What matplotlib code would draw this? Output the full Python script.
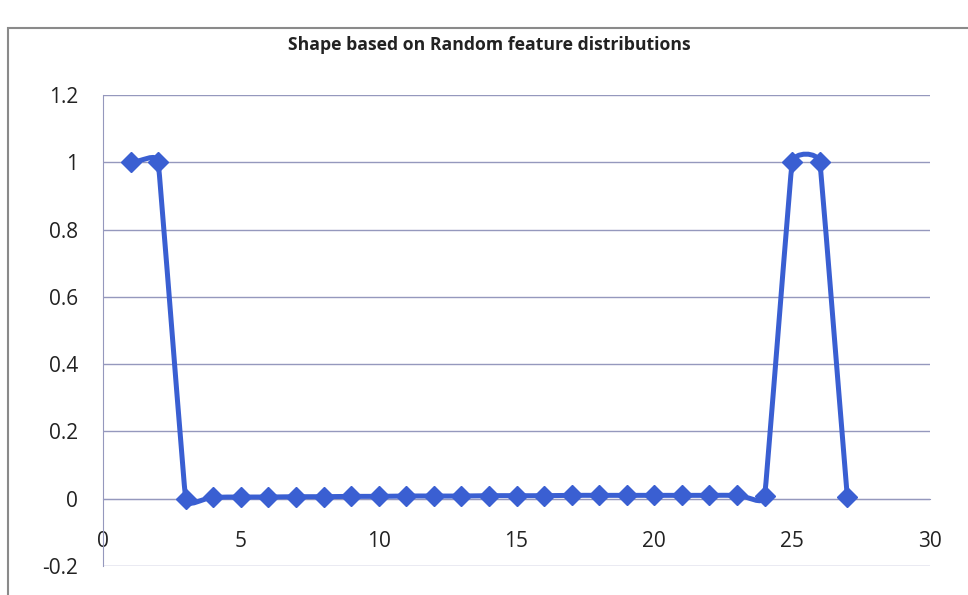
import numpy as np
import matplotlib
matplotlib.use("Agg")
import matplotlib.pyplot as plt
from matplotlib.path import Path
from matplotlib.patches import PathPatch, Rectangle

TITLE = "Shape based on Random feature distributions"
X_VALUES = list(range(1, 28))
Y_VALUES = [1.0, 1.0, 0.0, 0.004, 0.005, 0.005, 0.006, 0.006, 0.007, 0.007,
            0.008, 0.008, 0.008, 0.009, 0.009, 0.009, 0.010, 0.010, 0.010,
            0.010, 0.010, 0.010, 0.010, 0.008, 1.0, 1.0, 0.006]
X_TICKS = [0, 5, 10, 15, 20, 25, 30]
Y_TICKS = [-0.2, 0, 0.2, 0.4, 0.6, 0.8, 1.0, 1.2]
Y_TICK_LABELS = ["-0.2", "0", "0.2", "0.4", "0.6", "0.8", "1", "1.2"]

LINE_COLOR = '#3a5fd2'
GRID_COLOR = '#9598bd'
SMOOTH = 0.4  # excel-like smoothed line

plt.rcParams['font.family'] = ['Open Sans', 'DejaVu Sans']


def smooth_path(ax, xs, ys, k=SMOOTH):
    # bezier segments built in screen space, control distance limited by
    # the shorter neighbouring segment so long drops stay straight
    pts = ax.transData.transform(np.column_stack([xs, ys]))
    n = len(pts)
    verts = [pts[0]]; codes = [Path.MOVETO]
    for i in range(n - 1):
        p0, p1 = pts[i], pts[i + 1]
        seg = np.hypot(*(p1 - p0))
        prev = np.hypot(*(p0 - pts[i - 1])) if i > 0 else seg
        nxt = np.hypot(*(pts[i + 2] - p1)) if i + 2 < n else seg
        a = pts[i + 1] - pts[max(i - 1, 0)]
        b = pts[min(i + 2, n - 1)] - pts[i]
        c1 = p0 + k * min(seg, prev) * a / np.linalg.norm(a)
        c2 = p1 - k * min(seg, nxt) * b / np.linalg.norm(b)
        verts += [c1, c2, p1]; codes += [Path.CURVE4] * 3
    verts = ax.transData.inverted().transform(np.array(verts))
    return Path(verts, codes)


fig = plt.figure(figsize=(9.68, 5.95), dpi=100)
ax = fig.add_axes([103 / 968, 29 / 595, 827 / 968, 471 / 595])
ax.set_xlim(0, 30)
ax.set_ylim(-0.2, 1.2)

ax.set_yticks(Y_TICKS)
ax.set_yticklabels(Y_TICK_LABELS)
ax.set_xticks(X_TICKS)
ax.yaxis.grid(True, color=GRID_COLOR, linewidth=1.0)
ax.set_axisbelow(True)

for s in ['top', 'right']:
    ax.spines[s].set_visible(False)
ax.spines['left'].set_color(GRID_COLOR)
ax.spines['bottom'].set_color(GRID_COLOR)
ax.spines['bottom'].set_position(('data', 0))
ax.tick_params(axis='y', length=0, pad=18, labelsize=15, labelcolor='#222222')
ax.tick_params(axis='x', length=0, pad=23, labelsize=15, labelcolor='#222222')

path = smooth_path(ax, X_VALUES, Y_VALUES)
ax.add_patch(PathPatch(path, fill=False, edgecolor=LINE_COLOR, linewidth=3.6,
                       capstyle='round', joinstyle='round', zorder=3))
ax.plot(X_VALUES, Y_VALUES, linestyle='none', marker='D', markersize=10.5,
        color=LINE_COLOR, zorder=4, clip_on=False)

fig.text(0.506, 0.924, TITLE, ha='center', va='center', fontsize=12.7,
         fontweight='bold', color='#222222')
fig.patches.append(Rectangle((0.008, -0.01), 1.0, 0.963, transform=fig.transFigure,
                             fill=False, edgecolor='#8a8a8a', linewidth=1.5))

fig.savefig('out.png', dpi=100)
